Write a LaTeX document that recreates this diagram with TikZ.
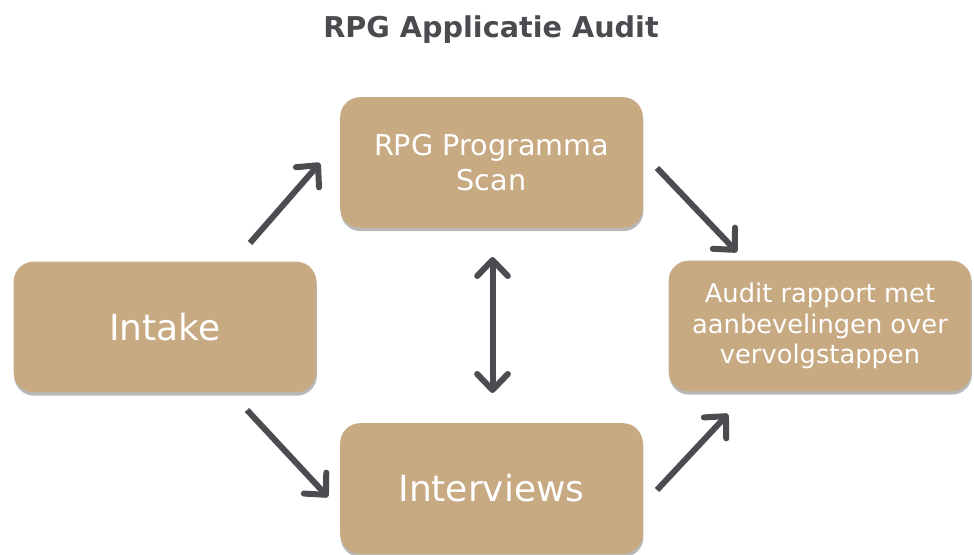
\documentclass[tikz,border=0pt]{standalone}
\usepackage{fontspec}
\setmainfont{DejaVu Sans}
\usetikzlibrary{arrows.meta,shadows}
\definecolor{boxtan}{HTML}{C7A982}
\definecolor{arrowgray}{HTML}{4B4C50}
\definecolor{titlegray}{HTML}{4A4B4F}
\begin{document}
\begin{tikzpicture}[x=0.75pt,y=-0.75pt,
  stepbox/.style={draw=none, fill=boxtan, rounded corners=15pt,
    minimum width=227pt, minimum height=98pt, inner sep=0pt,
    text=white, align=center,
    drop shadow={shadow xshift=0.4pt, shadow yshift=-2.5pt, opacity=0.35, fill=black!80}},
  tipstyle/.style={},
  flow/.style={draw=arrowgray, line width=4.5pt,
    -{Straight Barb[length=12pt,width=23pt,line cap=round,line join=round]}},
  dflow/.style={draw=arrowgray, line width=4.5pt,
    {Straight Barb[length=12pt,width=23pt,line cap=round,line join=round]}-{Straight Barb[length=12pt,width=23pt,line cap=round,line join=round]}}
]
\useasboundingbox (0,0) rectangle (974,554);
\node[font=\bfseries\fontsize{21.5pt}{25pt}\selectfont, text=titlegray] (title) at (491,30) {RPG Applicatie Audit};
\node[stepbox, font=\fontsize{27pt}{30pt}\selectfont] (intake) at (165,327) {Intake};
\node[stepbox, font=\fontsize{21.5pt}{26pt}\selectfont] (scan) at (491.5,162.5) {RPG Programma\\Scan};
\node[stepbox, font=\fontsize{27pt}{30pt}\selectfont] (interviews) at (491.5,488.5) {Interviews};
\node[stepbox, font=\fontsize{19.3pt}{22.8pt}\selectfont] (audit) at (820,326) {Audit rapport met\\aanbevelingen over\\vervolgstappen};
\coordinate (a1s) at (250,243);
\coordinate (a1e) at (320,163);
\coordinate (a2s) at (657,168);
\coordinate (a2e) at (737,252);
\coordinate (a3s) at (247,410);
\coordinate (a3e) at (328,497);
\coordinate (a4s) at (657,490);
\coordinate (a4e) at (728,414);
\coordinate (a5s) at (492.5,257);
\coordinate (a5e) at (492.5,393);
\draw[flow] (a1s) -- (a1e);
\draw[flow] (a2s) -- (a2e);
\draw[flow] (a3s) -- (a3e);
\draw[flow] (a4s) -- (a4e);
\draw[dflow] (a5s) -- (a5e);
\end{tikzpicture}
\end{document}
